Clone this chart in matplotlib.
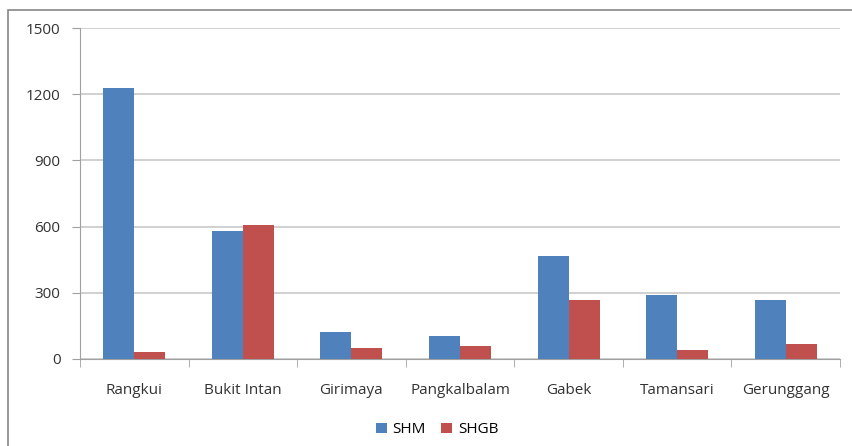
import matplotlib.pyplot as plt
import matplotlib.patches as mpatches
import numpy as np

plt.rcParams['font.family'] = ['Open Sans', 'DejaVu Sans']

kelurahan = ['Rangkui', 'Bukit Intan', 'Girimaya', 'Pangkalbalam', 'Gabek', 'Tamansari', 'Gerunggang']
shm = [1230, 580, 122, 104, 467, 290, 268]
shgb = [30, 608, 50, 57, 267, 40, 68]

biru = '#4F81BD'
merah = '#C0504D'

fig = plt.figure(figsize=(8.53, 4.46), dpi=100)
# bingkai luar grafik
fig.patches.append(mpatches.Rectangle((8 / 853, -0.1), 1.0, (436 / 446) + 0.1,
                                      transform=fig.transFigure, fill=False,
                                      edgecolor='#868686', linewidth=1.2))

ax = fig.add_axes([80 / 853, 87 / 446, 760 / 853, 331 / 446])

x = np.arange(len(kelurahan))
w = 0.285
ax.bar(x - w / 2, shm, w, color=biru, label='SHM', zorder=3)
ax.bar(x + w / 2, shgb, w, color=merah, label='SHGB', zorder=3)

ax.set_xlim(-0.5, len(kelurahan) - 0.5)
ax.set_ylim(0, 1500)
ax.set_yticks(range(0, 1501, 300))
ax.set_xticks(x)
ax.set_xticklabels(kelurahan)
ax.set_xticks(np.arange(-0.5, len(kelurahan), 1), minor=True)
ax.tick_params(axis='x', which='major', length=0, pad=17, labelsize=11, labelcolor='#333333')
ax.tick_params(axis='x', which='minor', length=6, color='#A0A0A0', direction='out')
ax.tick_params(axis='y', length=6, color='#A0A0A0', labelsize=11, labelcolor='#333333', pad=8)

ax.grid(axis='y', color='#C8C8C8', linewidth=1.2, zorder=0)
for s in ['top', 'right']:
    ax.spines[s].set_visible(False)
ax.spines['left'].set_color('#A0A0A0')
ax.spines['bottom'].set_color('#A0A0A0')

ax.legend(loc='upper center', bbox_to_anchor=(0.47, -0.15), ncol=2, frameon=False,
          fontsize=11, handlelength=0.7, handleheight=0.7, handletextpad=0.4,
          columnspacing=1.0)

plt.savefig('out.png', dpi=100)
